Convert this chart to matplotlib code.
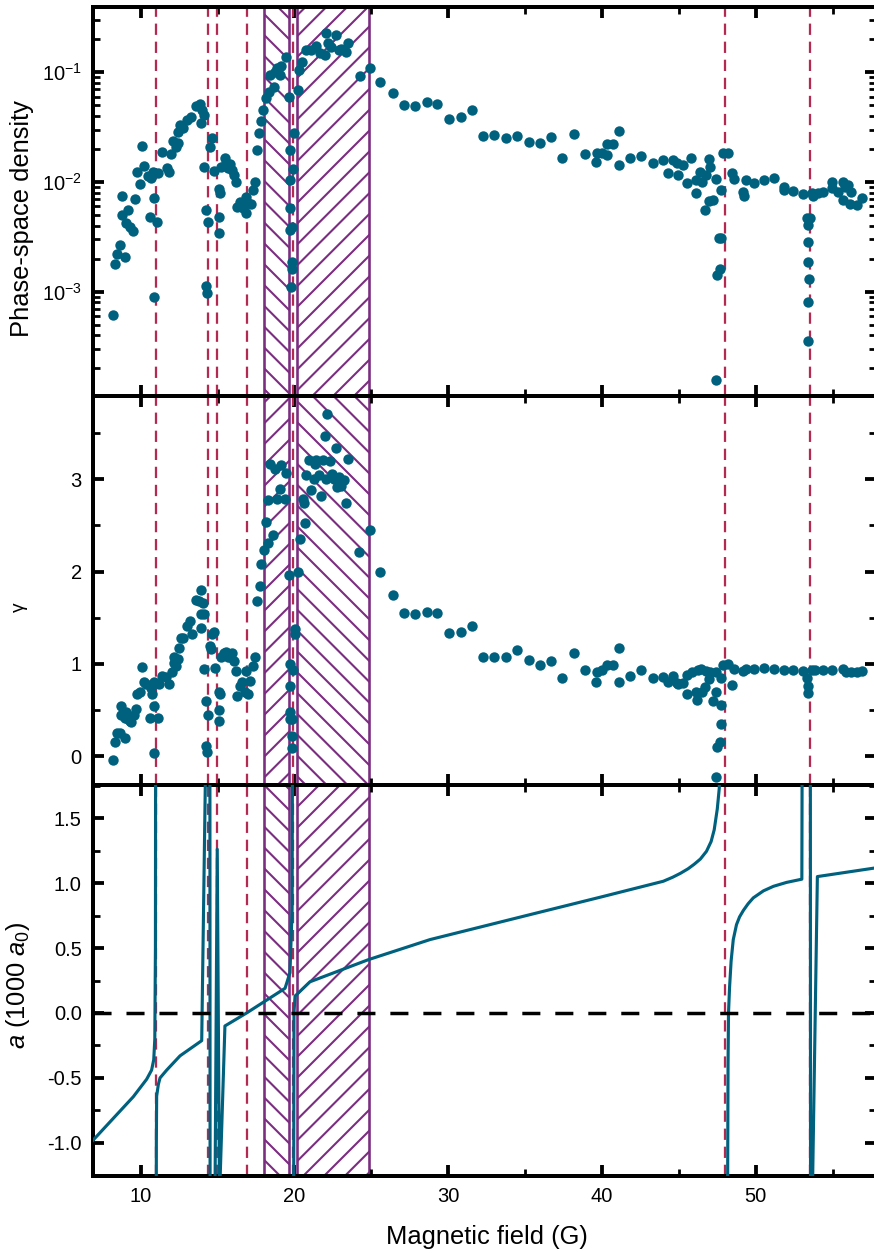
import numpy as np
import matplotlib
matplotlib.use('Agg')
import matplotlib.pyplot as plt
from matplotlib.ticker import MultipleLocator, FormatStrFormatter, LogLocator

plt.rcParams['font.family'] = ['Liberation Sans', 'DejaVu Sans']
plt.rcParams['mathtext.fontset'] = 'custom'
plt.rcParams['mathtext.rm'] = 'Liberation Sans'
plt.rcParams['mathtext.it'] = 'Liberation Sans:italic'
plt.rcParams['axes.unicode_minus'] = False
plt.rcParams['hatch.linewidth'] = 1.2

# phase-space density vs field
psd_B = [8.20, 8.31, 8.46, 8.63, 8.96, 8.78, 8.78, 9.07, 9.17, 9.33, 9.50, 9.65, 9.76, 9.93,
         10.09, 10.22, 10.47, 10.63, 10.69, 10.80, 10.84, 10.86, 11.06, 11.12, 11.41, 11.71,
         11.84, 11.99, 12.10, 12.28, 12.42, 12.42, 12.58, 12.75, 13.01, 13.29, 13.62, 13.88,
         13.99, 14.12, 13.94, 14.12, 14.27, 14.38, 14.23, 14.31, 14.49, 14.64, 14.75, 15.09,
         15.14, 15.09, 15.09, 15.24, 15.46, 15.57, 15.68, 15.83, 15.96, 16.07, 16.18, 16.26,
         16.48, 16.65, 16.83, 16.87, 16.98, 17.19, 17.30, 17.46, 17.57, 17.67, 17.85, 17.96,
         18.13, 18.33, 18.65, 18.39, 18.71, 18.89, 19.04, 19.15, 19.43, 19.65, 19.69, 19.73,
         19.73, 19.69, 19.86, 19.84, 19.84, 19.80, 19.91, 19.97, 20.23, 20.30, 20.51, 20.77,
         21.10, 21.38, 21.64, 21.97, 22.07, 22.18, 22.40, 22.72, 22.90, 23.05, 23.33, 23.48,
         24.24, 24.89, 25.59, 26.43, 27.15, 27.84, 28.60, 29.29, 30.07, 30.81, 31.53, 32.28,
         33.00, 33.76, 34.50, 35.24, 35.95, 36.69, 37.42, 38.16, 38.90, 39.59, 39.66, 39.98,
         40.35, 40.35, 40.74, 41.09, 41.11, 41.82, 42.54, 43.30, 43.99, 44.32, 44.60, 44.86,
         44.93, 45.29, 45.51, 45.79, 46.12, 46.12, 46.37, 46.49, 46.72, 46.77, 46.98, 47.03,
         46.98, 47.24, 47.42, 47.72, 47.85, 48.18, 47.63, 47.76, 47.50, 47.68, 47.42, 48.44,
         48.59, 49.19, 49.24, 49.37, 49.91, 50.54, 51.19, 51.84, 51.84, 52.45, 53.10, 53.64,
         53.75, 54.07, 54.40, 54.98, 54.98, 55.37, 55.70, 55.80, 56.02, 56.17, 55.70, 56.13,
         56.57, 56.90, 53.32, 53.54, 53.38, 53.42, 53.38, 53.47, 53.38, 53.38]
psd = [6.1e-4, 1.78e-3, 2.2e-3, 2.67e-3, 2.06e-3, 5.0e-3, 7.4e-3, 4.25e-3, 5.6e-3, 3.9e-3,
       3.6e-3, 7.0e-3, 1.24e-2, 9.6e-3, 2.13e-2, 1.41e-2, 1.13e-2, 4.8e-3, 1.08e-2, 1.24e-2,
       7.2e-3, 9.0e-4, 4.35e-3, 1.2e-2, 1.89e-2, 1.33e-2, 1.24e-2, 1.8e-2, 2.38e-2, 2.1e-2,
       2.28e-2, 2.84e-2, 3.31e-2, 3.09e-2, 3.67e-2, 3.89e-2, 4.93e-2, 5.14e-2, 4.53e-2, 4.08e-2,
       3.47e-2, 1.36e-2, 5.56e-3, 4.35e-3, 1.13e-3, 9.7e-4, 2.1e-2, 2.5e-2, 1.27e-2, 8.6e-3,
       8.0e-3, 4.8e-3, 3.4e-3, 1.38e-2, 1.64e-2, 1.48e-2, 1.33e-2, 1.46e-2, 1.29e-2, 1.16e-2,
       1.01e-2, 5.88e-3, 6.6e-3, 5.75e-3, 5.25e-3, 7.3e-3, 6.5e-3, 6.3e-3, 8.45e-3, 9.9e-3,
       1.96e-2, 2.78e-2, 3.62e-2, 4.53e-2, 5.8e-2, 6.66e-2, 7.4e-2, 9.4e-2, 0.101, 0.109,
       9.4e-2, 0.114, 0.139, 5.9e-2, 1.96e-2, 1.04e-2, 5.75e-3, 3.65e-3, 3.9e-3, 1.87e-3,
       1.6e-3, 1.1e-3, 1.31e-2, 2.78e-2, 6.9e-2, 0.105, 0.125, 0.16, 0.16, 0.174, 0.149, 0.144,
       0.227, 0.184, 0.171, 0.219, 0.16, 0.162, 0.154, 0.184, 9.25e-2, 0.109, 8.2e-2, 6.5e-2,
       5.03e-2, 4.93e-2, 5.4e-2, 5.14e-2, 3.75e-2, 3.94e-2, 4.53e-2, 2.62e-2, 2.68e-2, 2.5e-2,
       2.64e-2, 2.32e-2, 2.25e-2, 2.55e-2, 1.64e-2, 2.72e-2, 1.8e-2, 1.51e-2, 1.83e-2, 1.83e-2,
       1.76e-2, 2.21e-2, 2.22e-2, 2.94e-2, 1.43e-2, 1.64e-2, 1.74e-2, 1.48e-2, 1.58e-2, 1.22e-2,
       1.58e-2, 1.48e-2, 1.16e-2, 1.43e-2, 9.7e-3, 1.64e-2, 1.04e-2, 8.0e-3, 1.24e-2, 1.01e-2,
       5.56e-3, 1.16e-2, 1.61e-2, 1.38e-2, 6.76e-3, 6.9e-3, 1.06e-2, 8.45e-3, 1.85e-2, 1.83e-2,
       3.1e-3, 3.1e-3, 1.42e-3, 1.6e-3, 1.57e-4, 1.22e-2, 1.06e-2, 8.17e-3, 7.5e-3, 1.04e-2,
       9.7e-3, 1.04e-2, 1.08e-2, 9.05e-3, 8.45e-3, 8.3e-3, 7.8e-3, 7.9e-3, 7.4e-3, 8.0e-3,
       8.1e-3, 9.9e-3, 8.8e-3, 8.1e-3, 1.01e-2, 9.05e-3, 9.4e-3, 8.1e-3, 6.86e-3, 6.3e-3,
       6.2e-3, 7.1e-3, 4.67e-3, 4.67e-3, 4.05e-3, 2.86e-3, 1.87e-3, 1.3e-3, 8.0e-4, 3.56e-4]

# gamma vs field
gam_B = [8.20, 8.31, 8.46, 8.63, 8.96, 8.74, 8.74, 8.96, 9.07, 9.17, 9.33, 9.40, 9.54, 9.67,
         9.76, 9.93, 10.10, 10.22, 10.37, 10.58, 10.69, 10.73, 10.84, 10.84, 10.86, 11.12,
         11.17, 11.41, 11.62, 11.84, 12.01, 12.14, 12.28, 12.42, 12.14, 12.47, 12.64, 12.75,
         13.01, 13.19, 13.34, 13.62, 13.80, 13.90, 14.05, 13.94, 14.10, 13.94, 14.12, 14.27,
         14.38, 14.23, 14.33, 14.53, 14.60, 14.66, 14.75, 14.81, 15.09, 15.14, 15.09, 15.09,
         15.24, 15.39, 15.52, 15.68, 15.83, 15.96, 16.05, 16.18, 16.26, 16.44, 16.59, 16.78,
         16.85, 16.98, 17.13, 17.30, 17.46, 17.57, 17.74, 17.85, 18.02, 18.17, 18.28, 18.60,
         18.28, 18.43, 18.71, 18.88, 19.04, 19.15, 19.37, 19.47, 19.65, 19.69, 19.69, 19.69,
         19.69, 19.86, 19.84, 19.84, 19.91, 20.02, 20.02, 20.23, 20.34, 20.55, 20.59, 20.66,
         20.77, 20.95, 21.10, 21.25, 21.32, 21.42, 21.60, 21.71, 21.86, 22.07, 22.01, 22.14,
         22.29, 22.46, 22.55, 22.72, 22.77, 22.90, 23.05, 23.20, 23.33, 23.48, 24.20, 24.93,
         25.59, 26.43, 27.15, 27.87, 28.60, 29.29, 30.07, 30.81, 31.53, 32.28, 33.00, 33.76,
         34.50, 35.24, 35.95, 36.69, 37.42, 38.16, 38.90, 39.59, 39.66, 39.98, 40.35, 40.74,
         41.09, 41.11, 41.82, 42.54, 43.30, 43.99, 44.32, 44.60, 44.86, 44.93, 45.29, 45.51,
         45.55, 45.83, 46.12, 46.16, 46.27, 46.42, 46.49, 46.72, 46.77, 46.98, 47.03, 47.24,
         47.42, 47.42, 47.72, 47.72, 47.72, 47.68, 47.50, 47.42, 47.85, 48.18, 48.44, 48.59,
         49.19, 49.37, 49.91, 50.54, 51.19, 51.84, 52.45, 53.10, 53.32, 53.42, 53.42, 53.64,
         53.86, 54.37, 54.98, 55.70, 55.90, 56.17, 56.57, 56.90]
gam = [-0.04, 0.15, 0.25, 0.25, 0.20, 0.54, 0.45, 0.42, 0.48, 0.40, 0.38, 0.37, 0.45, 0.51,
       0.68, 0.70, 0.97, 0.80, 0.78, 0.42, 0.74, 0.68, 0.80, 0.55, 0.04, 0.42, 0.78, 0.87,
       0.86, 0.78, 0.91, 1.01, 0.98, 1.05, 1.07, 1.17, 1.28, 1.28, 1.41, 1.46, 1.32, 1.69,
       1.68, 1.80, 1.66, 1.54, 1.54, 1.39, 0.95, 0.60, 0.45, 0.11, 0.05, 1.19, 1.16, 1.32,
       1.35, 0.96, 0.70, 0.68, 0.50, 0.38, 1.08, 1.12, 1.13, 1.07, 1.08, 1.12, 1.03, 0.92,
       0.65, 0.76, 0.80, 0.70, 0.92, 0.68, 0.82, 0.98, 1.07, 1.68, 1.84, 2.08, 2.23, 2.54,
       2.31, 2.40, 2.77, 3.16, 3.11, 2.78, 2.89, 3.15, 2.79, 3.07, 1.96, 1.00, 0.76, 0.48,
       0.40, 0.40, 0.22, 0.09, 0.93, 1.38, 1.32, 1.99, 2.35, 2.78, 2.74, 2.53, 3.04, 3.21,
       2.88, 3.00, 3.16, 3.21, 3.05, 2.82, 3.21, 3.00, 3.47, 3.71, 3.20, 3.06, 3.00, 3.34,
       2.91, 3.02, 2.93, 2.99, 2.74, 3.22, 2.21, 2.45, 2.00, 1.75, 1.55, 1.54, 1.56, 1.55,
       1.33, 1.35, 1.41, 1.08, 1.08, 1.08, 1.15, 1.04, 0.99, 1.03, 0.85, 1.12, 0.94, 0.81,
       0.91, 0.94, 0.99, 0.99, 1.17, 0.81, 0.87, 0.94, 0.85, 0.86, 0.81, 0.87, 0.79, 0.78,
       0.79, 0.68, 0.88, 0.91, 0.70, 0.61, 0.94, 0.95, 0.70, 0.75, 0.92, 0.84, 0.91, 0.60,
       0.91, 0.70, 0.85, 0.56, 0.35, 0.15, 0.10, -0.22, 0.99, 1.00, 0.77, 0.95, 0.92, 0.95,
       0.95, 0.96, 0.95, 0.93, 0.93, 0.92, 0.85, 0.76, 0.69, 0.94, 0.93, 0.93, 0.94, 0.95,
       0.91, 0.91, 0.91, 0.92]

# scattering length (1000 a0); nan breaks the curve at poles
a_B = [6.9, 9.52, 10.39, 10.71, 10.85, 10.92, 10.96, 10.98, np.nan,
       11.00, 11.02, 11.04, 11.15, 11.26, 11.69, 12.56, 13.97, 14.35, 14.50, 14.52, 14.84,
       14.98, 15.12, 15.16, 15.48, 16.89, 19.39, 19.71, 19.85, 19.89, np.nan,
       19.93, 19.97, 20.04, 21.01, 24.8, 28.82, 35.32, 39.98, 43.99, 44.6, 45.1, 45.6,
       46.0, 46.4, 46.8, 47.1, 47.3, 47.5, 47.63, 47.70, np.nan,
       48.14, 48.20, 48.23, 48.30, 48.40, 48.54, 48.75, 48.95, 49.2, 49.5, 49.84, 50.5,
       51.15, 52.0, 53.0, 53.04, 53.55, 53.57, 53.70, 54.01, 57.8]
a_val = [-0.98, -0.645, -0.51, -0.44, -0.36, -0.2, 0.5, 3.0, np.nan,
         -3.0, -1.0, -0.64, -0.55, -0.50, -0.44, -0.33, -0.213, 3.0, 3.0, -3.0, -1.3,
         1.26, -1.3, -1.3, -0.10, 0.0, 0.19, 0.31, 0.8, 3.0, np.nan,
         -3.0, 0.0, 0.13, 0.24, 0.41, 0.565, 0.757, 0.894, 1.014, 1.045, 1.075, 1.11,
         1.145, 1.185, 1.245, 1.32, 1.41, 1.57, 1.73, 2.5, np.nan,
         -2.5, -0.4, 0.0, 0.2, 0.4, 0.565, 0.68, 0.74, 0.79, 0.84, 0.886, 0.94,
         0.975, 1.005, 1.03, 3.0, 3.0, -3.0, -1.3, 1.05, 1.117]

res_B = [11.0, 14.38, 14.98, 16.89, 19.93, 48.0, 53.53]
box_left = (18.04, 19.62)
box_right = (20.15, 24.85)

teal = '#00617f'
red = '#b22a52'
purple = '#7b2d80'

W, H, dpi = 874, 1253, 125
fig = plt.figure(figsize=(W / dpi, H / dpi), dpi=dpi)
left = 93 / W
width = 782.5 / W
ax1 = fig.add_axes([left, 1 - 396 / H, width, 389 / H])
ax2 = fig.add_axes([left, 1 - 785 / H, width, 389 / H], sharex=ax1)
ax3 = fig.add_axes([left, 1 - 1176 / H, width, 391 / H], sharex=ax1)

hatches = [('\\\\', '//'), ('//', '\\\\'), ('\\\\', '//')]
for ax, (h1, h2) in zip([ax1, ax2, ax3], hatches):
    ax.axvspan(*box_left, facecolor='none', edgecolor=purple, hatch=h1, lw=1.5, zorder=1)
    ax.axvspan(*box_right, facecolor='none', edgecolor=purple, hatch=h2, lw=1.5, zorder=1)
    for xv in res_B:
        ax.axvline(xv, color=red, lw=1.3, ls=(0, (5, 3)), zorder=2)
    for s in ax.spines.values():
        s.set_linewidth(2.3)
    ax.tick_params(which='both', direction='in', top=True, right=True,
                   labelsize=11.6, pad=6.5)
    ax.tick_params(which='major', length=6.5, width=2.2)
    ax.tick_params(which='minor', length=4, width=1.6)
    ax.xaxis.set_major_locator(MultipleLocator(10))
    ax.xaxis.set_minor_locator(MultipleLocator(5))

ax1.scatter(psd_B, psd, s=36, color=teal, linewidths=0, zorder=3)
ax1.set_yscale('log')
ax1.set_ylim(1.12e-4, 0.394)
ax1.yaxis.set_major_locator(LogLocator(base=10, numticks=10))
ax1.yaxis.set_minor_locator(LogLocator(base=10, subs=np.arange(2, 10), numticks=20))
ax1.set_ylabel('Phase-space density', fontsize=14.7)
ax1.yaxis.set_label_coords(-0.075, 0.455)
ax1.tick_params(labelbottom=False)

ax2.scatter(gam_B, gam, s=36, color=teal, linewidths=0, zorder=3)
ax2.set_ylim(-0.31, 3.9)
ax2.yaxis.set_major_locator(MultipleLocator(1))
ax2.yaxis.set_minor_locator(MultipleLocator(0.5))
ax2.set_ylabel('γ', fontsize=11)
ax2.yaxis.set_label_coords(-0.083, 0.458)
ax2.tick_params(labelbottom=False)

ax3.plot(a_B, a_val, color=teal, lw=1.8, zorder=3)
ax3.axhline(0, color='black', lw=2.0, ls=(0, (5.2, 4.3)), zorder=4)
ax3.set_ylim(-1.255, 1.755)
ax3.yaxis.set_major_locator(MultipleLocator(0.5))
ax3.yaxis.set_minor_locator(MultipleLocator(0.25))
ax3.yaxis.set_major_formatter(FormatStrFormatter('%.1f'))
ax3.set_ylabel('$a$ (1000 $a_0$)', fontsize=14.7)
ax3.yaxis.set_label_coords(-0.078, 0.488)
ax3.set_xlabel('Magnetic field (G)', fontsize=14.7)
ax3.xaxis.set_label_coords(0.504, -0.125)

ax1.set_xlim(6.9, 57.79)

fig.savefig('out.png', dpi=dpi)
